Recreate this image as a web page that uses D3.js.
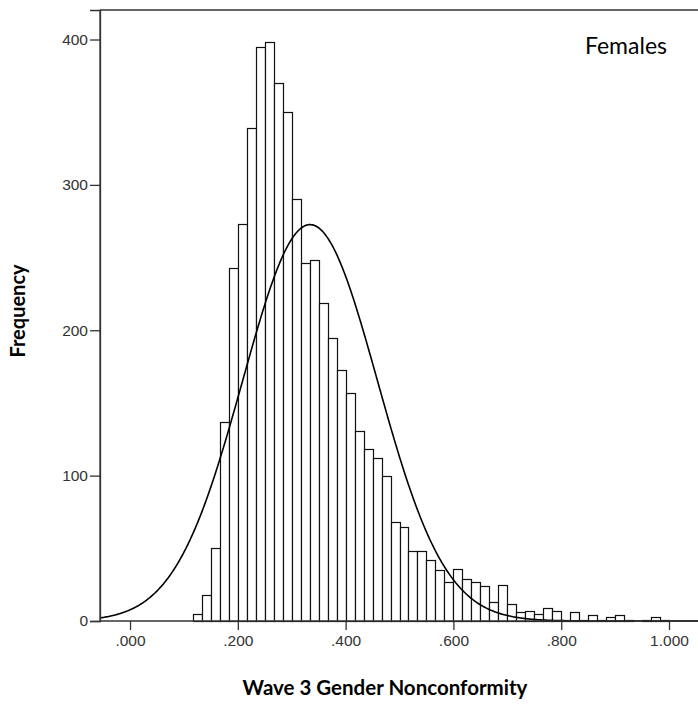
<!DOCTYPE html>
<html>
<head>
<meta charset="utf-8">
<script src="https://cdn.jsdelivr.net/npm/d3@7"></script>
<style>
    body { margin: 0; background: #fff; }
    svg { display: block; }
</style>
</head>
<body>
<div id="chart"></div>
<script>
'use strict';

// histogram bins: width 1/60, first bin starts at 7/60
var binWidth = 1 / 60;
var firstBin = 7 / 60;
var counts = [5, 18, 50, 137, 243, 273, 339, 395, 398, 370,
    350, 290, 246, 248, 219, 195, 173, 157, 131, 118,
    112, 100, 68, 65, 48, 48, 42, 35, 27, 36,
    29, 27, 24, 13, 25, 12, 6, 7, 5, 9,
    7, 1, 6, 1, 4, 1, 3, 4, 1, 0,
    1, 3, 1];

// fitted normal curve
var curveMean = 0.334;
var curveSd = 0.125;

var yTicks = [0, 100, 200, 300, 400];
var xTicks = [0, 0.2, 0.4, 0.6, 0.8, 1.0];
var xTickLabels = ['.000', '.200', '.400', '.600', '.800', '1.000'];

var width = 698, height = 709;
var margin = {left: 100, right: 0, top: 10, bottom: 88};

var svg = d3.select('#chart').append('svg')
    .attr('width', width)
    .attr('height', height);

var x = d3.scaleLinear()
    .domain([-0.0557, 1.0538])
    .range([margin.left, width - margin.right]);

var y = d3.scaleLinear()
    .domain([0, 420.3])
    .range([height - margin.bottom, margin.top]);

var bins = counts.map(function(c, i) {
    return {x0: firstBin + i * binWidth, x1: firstBin + (i + 1) * binWidth, n: c};
});

svg.append('g').selectAll('rect')
    .data(bins.filter(function(d) { return d.n > 0; }))
    .enter().append('rect')
    .attr('x', function(d) { return Math.round(x(d.x0)) + 0.5; })
    .attr('width', function(d) { return Math.round(x(d.x1)) - Math.round(x(d.x0)); })
    .attr('y', function(d) { return Math.round(y(d.n)) + 0.5; })
    .attr('height', function(d) { return Math.round(y(0)) - Math.round(y(d.n)); })
    .style('fill', '#fff')
    .style('stroke', '#111')
    .style('stroke-width', 1.2);

// normal curve scaled to counts
var total = d3.sum(counts);
var curvePts = d3.range(x.domain()[0], x.domain()[1] + 0.001, 0.002).map(function(v) {
    var z = (v - curveMean) / curveSd;
    return [v, total * binWidth * Math.exp(-0.5 * z * z) / (curveSd * Math.sqrt(2 * Math.PI))];
});

svg.append('path')
    .datum(curvePts)
    .attr('d', d3.line()
        .x(function(d) { return x(d[0]); })
        .y(function(d) { return y(d[1]); }))
    .style('fill', 'none')
    .style('stroke', '#000')
    .style('stroke-width', 1.6);

// frame: left and top lines
var frame = svg.append('g').style('stroke', '#333').style('stroke-width', 1.3);
frame.append('line')
    .attr('x1', margin.left).attr('x2', margin.left)
    .attr('y1', margin.top).attr('y2', y(0));
frame.append('line')
    .attr('x1', margin.left).attr('x2', width)
    .attr('y1', margin.top).attr('y2', margin.top);

var xAxis = svg.append('g')
    .attr('transform', 'translate(0,' + y(0) + ')')
    .call(d3.axisBottom(x).tickValues(xTicks)
        .tickFormat(function(d, i) { return xTickLabels[i]; })
        .tickSize(9).tickPadding(5));

var yAxis = svg.append('g')
    .attr('transform', 'translate(' + margin.left + ',0)')
    .call(d3.axisLeft(y).tickValues(yTicks).tickSize(10).tickPadding(2));

[xAxis, yAxis].forEach(function(a) {
    a.select('.domain').style('stroke', '#333').style('stroke-width', 1.3);
    a.selectAll('.tick line').style('stroke', '#333').style('stroke-width', 1.3);
    a.selectAll('.tick text')
        .style('font-family', 'Liberation Sans, Arial, sans-serif')
        .style('font-size', '15.5px')
        .style('fill', '#333');
});
xAxis.select('.domain').attr('d', 'M' + margin.left + ',0H' + width);

svg.append('text')
    .attr('x', 385)
    .attr('y', 695)
    .attr('text-anchor', 'middle')
    .style('font-family', 'Lato, sans-serif')
    .style('font-weight', 'bold')
    .style('font-size', '20.5px')
    .text('Wave 3 Gender Nonconformity');

svg.append('text')
    .attr('transform', 'translate(25,311) rotate(-90)')
    .attr('text-anchor', 'middle')
    .style('font-family', 'Lato, sans-serif')
    .style('font-weight', 'bold')
    .style('font-size', '20px')
    .text('Frequency');

svg.append('text')
    .attr('x', 667)
    .attr('y', 54)
    .attr('text-anchor', 'end')
    .style('font-family', 'Lato, sans-serif')
    .style('font-size', '23px')
    .text('Females');
</script>
</body>
</html>
